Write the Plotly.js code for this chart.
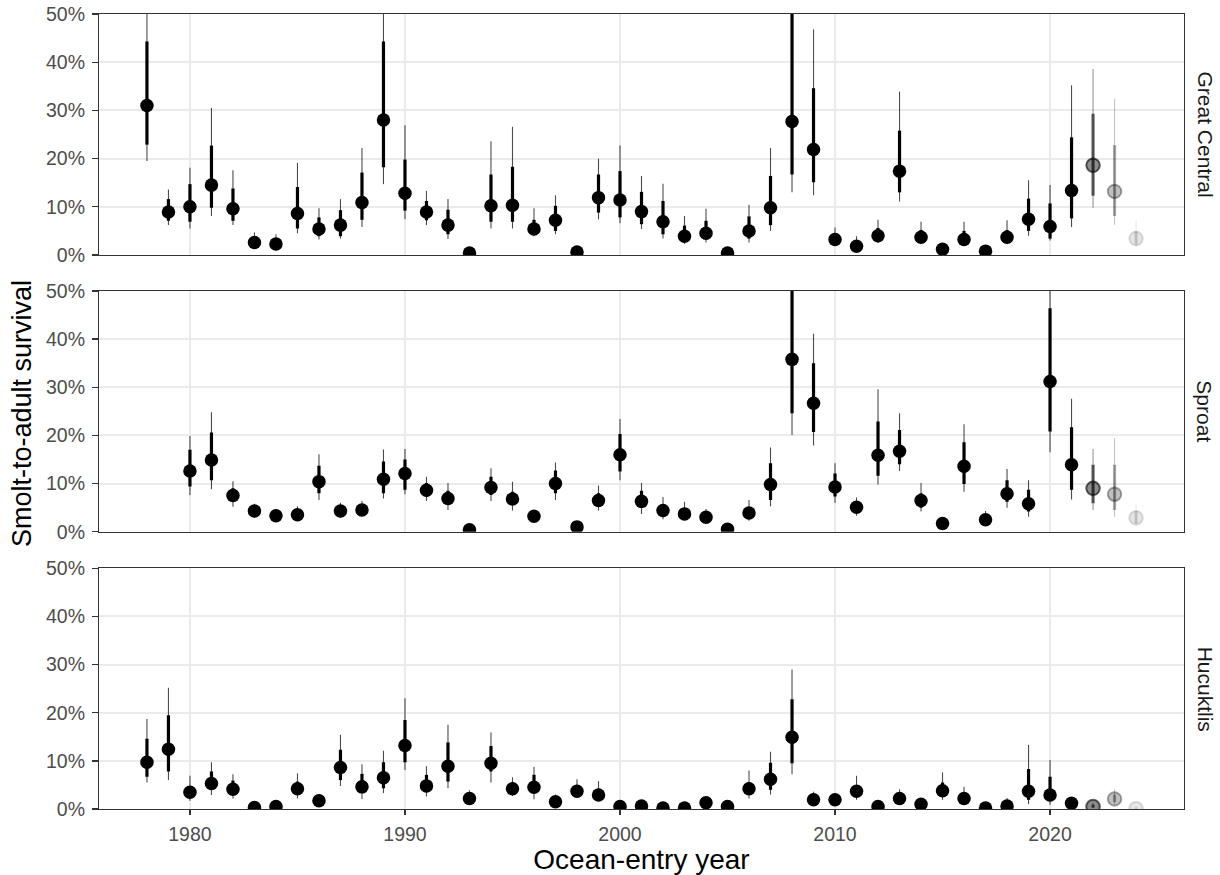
<!DOCTYPE html>
<html>
<head>
<meta charset="utf-8">
<script src="https://cdn.plot.ly/plotly-3.0.1.min.js"></script>
<style>html,body{margin:0;padding:0;background:#fff;}#chart{width:1220px;height:875px;}</style>
</head>
<body>
<div id="chart"></div>
<script>
// ---------------- DATA (percent) ----------------
const gcYears = [1978,1979,1980,1981,1982,1983,1984,1985,1986,1987,1988,1989,1990,1991,1992,1993,1994,1995,1996,1997,1998,1999,2000,2001,2002,2003,2004,2005,2006,2007,2008,2009,2010,2011,2012,2013,2014,2015,2016,2017,2018,2019,2020,2021,2022,2023,2024];
const gcEst  = [31.0,8.9,10.0,14.5,9.6,2.6,2.3,8.6,5.4,6.2,10.9,28.0,12.8,8.9,6.2,0.4,10.2,10.3,5.4,7.2,0.6,11.9,11.4,9.0,6.9,3.9,4.5,0.4,5.0,9.8,27.7,21.9,3.2,1.8,4.0,17.4,3.7,1.2,3.2,0.8,3.7,7.4,5.9,13.4,18.6,13.2,3.4];
const gcLo80 = [22.9,7.1,6.9,9.8,7.1,2.0,1.8,5.5,3.9,3.9,7.3,18.2,9.2,7.2,4.3,0.2,6.9,6.9,4.3,5.0,0.4,8.8,7.8,6.4,4.3,3.0,3.4,0.2,3.4,6.2,16.7,15.1,2.5,1.3,3.0,13.0,2.9,0.8,2.4,0.5,2.8,5.0,3.4,7.6,12.3,8.1,2.3];
const gcHi80 = [44.3,11.6,14.7,22.7,13.8,3.4,3.1,14.1,7.8,9.3,17.1,44.3,19.8,11.2,9.4,0.7,16.7,18.3,7.3,10.2,0.9,16.7,17.4,13.1,11.2,6.1,7.1,0.7,8.0,16.4,55.0,34.6,4.3,2.8,5.6,25.8,5.2,1.7,5.0,1.2,5.2,11.7,10.7,24.4,29.3,22.8,5.0];
const gcLo95 = [19.5,6.2,5.5,8.1,6.2,1.6,1.4,4.5,3.2,3.4,5.8,14.7,7.4,6.2,3.3,0.1,5.5,5.5,3.9,4.3,0.3,7.4,6.6,5.4,3.4,2.3,2.6,0.1,2.6,5.0,13.0,12.4,2.1,1.0,2.5,11.1,2.4,0.6,2.0,0.3,2.3,4.0,3.0,5.8,9.8,6.3,1.6];
const gcHi95 = [58.0,13.6,18.1,30.5,17.6,4.7,4.3,19.1,9.7,11.6,22.2,56.0,26.9,13.3,11.6,1.0,23.6,26.6,9.7,12.4,1.2,20.0,22.7,16.4,14.8,8.1,9.6,1.0,10.4,22.2,70.0,46.8,5.7,3.9,7.3,33.9,6.9,2.3,6.9,1.6,7.2,15.5,14.5,35.2,38.6,32.4,7.2];

const spYears = [1980,1981,1982,1983,1984,1985,1986,1987,1988,1989,1990,1991,1992,1993,1994,1995,1996,1997,1998,1999,2000,2001,2002,2003,2004,2005,2006,2007,2008,2009,2010,2011,2012,2013,2014,2015,2016,2017,2018,2019,2020,2021,2022,2023,2024];
const spEst  = [12.6,14.9,7.5,4.3,3.3,3.5,10.4,4.3,4.5,10.9,12.1,8.6,6.9,0.4,9.2,6.8,3.2,10.0,1.0,6.5,16.0,6.3,4.4,3.7,3.0,0.5,3.9,9.8,35.8,26.7,9.3,5.1,15.9,16.7,6.5,1.7,13.6,2.5,7.9,5.8,31.2,13.9,9.0,7.8,2.9];
const spLo80 = [9.4,10.7,6.2,3.4,2.5,2.7,8.0,3.4,3.7,8.0,8.7,7.3,5.6,0.2,7.6,5.6,2.5,8.0,0.7,5.2,12.5,4.9,3.1,2.8,2.3,0.3,3.0,6.6,24.6,20.7,7.3,4.0,11.6,14.0,5.0,1.1,9.9,1.8,6.2,4.2,20.8,8.7,5.9,4.5,1.8];
const spHi80 = [17.0,20.6,9.0,5.0,3.8,4.4,13.7,5.2,5.5,14.6,15.0,10.1,8.5,0.6,11.4,8.3,3.8,12.7,1.4,8.0,20.3,8.5,5.3,4.8,3.8,0.8,5.0,14.2,56.0,35.0,12.1,6.1,22.9,21.1,8.0,2.2,18.6,3.3,10.7,8.7,46.4,21.7,13.9,13.9,4.3];
const spLo95 = [7.6,8.8,5.2,2.9,2.1,2.3,6.6,2.9,3.2,6.9,7.8,6.4,4.5,0.1,6.4,4.4,2.1,6.6,0.5,4.4,10.7,3.7,2.6,2.4,1.9,0.2,2.3,5.3,20.1,17.9,6.0,3.3,9.8,12.6,4.2,0.9,8.3,1.5,5.0,3.1,16.5,6.7,4.5,3.1,1.2];
const spHi95 = [19.9,24.8,10.5,5.8,4.4,5.3,16.1,6.0,6.4,17.1,17.2,11.4,10.1,0.9,13.2,10.4,4.4,14.4,1.8,9.6,23.4,10.1,7.2,6.2,4.7,1.1,6.6,17.5,70.0,41.1,14.2,7.1,29.6,24.6,10.1,2.8,22.3,4.3,13.0,10.7,56.0,27.6,17.2,19.4,5.9];

const huYears = [1978,1979,1980,1981,1982,1983,1984,1985,1986,1987,1988,1989,1990,1991,1992,1993,1994,1995,1996,1997,1998,1999,2000,2001,2002,2003,2004,2005,2006,2007,2008,2009,2010,2011,2012,2013,2014,2015,2016,2017,2018,2019,2020,2021,2022,2023,2024];
const huEst  = [9.7,12.4,3.5,5.3,4.1,0.3,0.5,4.2,1.7,8.6,4.6,6.5,13.2,4.8,8.9,2.2,9.5,4.2,4.5,1.5,3.7,2.9,0.5,0.6,0.2,0.2,1.3,0.5,4.2,6.2,14.9,1.9,1.9,3.7,0.5,2.2,1.0,3.8,2.2,0.2,0.6,3.7,2.9,1.2,0.5,2.1,0.1];
const huLo80 = [6.7,7.8,2.4,4.0,2.9,0.1,0.3,2.9,1.2,6.0,3.3,4.3,9.7,3.6,5.7,1.6,7.8,3.3,3.3,1.0,3.0,2.2,0.3,0.4,0.1,0.1,0.9,0.3,3.3,4.0,9.5,1.4,1.4,2.8,0.3,1.6,0.7,2.8,1.6,0.1,0.4,1.9,1.7,0.8,0.3,1.4,0.05];
const huHi80 = [14.6,19.5,4.6,7.8,5.9,0.6,0.8,5.7,2.4,12.3,7.3,9.7,18.5,7.1,13.8,3.1,13.1,5.5,7.1,2.2,5.0,4.2,0.8,0.9,0.4,0.4,1.8,0.8,5.5,9.6,22.8,2.7,2.6,4.8,0.8,3.0,1.5,5.5,3.3,0.4,1.0,8.3,6.7,1.8,0.9,3.0,0.3];
const huLo95 = [5.5,6.0,1.7,2.9,2.2,0.05,0.2,2.2,0.9,4.8,2.1,3.3,8.1,2.6,4.3,1.2,5.5,2.7,2.0,0.8,2.6,1.9,0.2,0.3,0.05,0.05,0.7,0.2,2.2,3.0,7.2,1.1,1.1,1.9,0.2,1.3,0.5,1.9,1.2,0.05,0.3,1.0,0.9,0.6,0.2,1.0,0.02];
const huHi95 = [18.7,25.2,6.9,9.7,7.2,0.9,1.1,7.4,3.0,15.4,9.3,12.1,23.0,8.9,17.5,3.9,15.9,6.6,8.8,3.0,6.2,5.8,1.1,1.2,0.6,0.6,2.3,1.1,8.0,11.9,29.0,3.6,3.2,6.9,1.1,4.1,2.0,7.6,4.6,0.6,2.3,13.3,10.2,2.4,1.3,4.1,0.6];

const siteNames = ["Great Central", "Sproat", "Hucuktlis"];
const yTickVals = [0,10,20,30,40,50];
const yTickText = ["0%","10%","20%","30%","40%","50%"];
const xTickVals = [1980,1990,2000,2010,2020];
// provisional (incomplete) brood years shown faded
const fadedYears = [2022, 2023, 2024];
const fadedAlpha = [0.6, 0.33, 0.13];

// ---------------- BUILD ----------------
const sites = [
  {yrs: gcYears, est: gcEst, lo80: gcLo80, hi80: gcHi80, lo95: gcLo95, hi95: gcHi95},
  {yrs: spYears, est: spEst, lo80: spLo80, hi80: spHi80, lo95: spLo95, hi95: spHi95},
  {yrs: huYears, est: huEst, lo80: huLo80, hi80: huHi80, lo95: huLo95, hi95: huHi95}
];

const traces = [];
sites.forEach((s, i) => {
  const xa = i === 0 ? 'x' : 'x' + (i + 1);
  const ya = i === 0 ? 'y' : 'y' + (i + 1);
  const groups = [{alpha: 1, idx: s.yrs.map((y, k) => fadedYears.includes(y) ? -1 : k).filter(k => k >= 0)}];
  fadedYears.forEach((fy, j) => {
    groups.push({alpha: fadedAlpha[j], idx: s.yrs.map((y, k) => y === fy ? k : -1).filter(k => k >= 0)});
  });
  groups.forEach(g => {
    if (!g.idx.length) return;
    const X = g.idx.map(k => s.yrs[k]);
    const E = g.idx.map(k => s.est[k]);
    const c = a => `rgba(0,0,0,${a})`;
    const faded = g.alpha < 1;
    traces.push({
      type: 'scatter', mode: 'markers', xaxis: xa, yaxis: ya, x: X, y: E,
      marker: {size: 1, color: 'rgba(0,0,0,0)'}, hoverinfo: 'skip', showlegend: false, cliponaxis: true,
      error_y: {type: 'data', symmetric: false,
        array: g.idx.map(k => s.hi95[k] - s.est[k]),
        arrayminus: g.idx.map(k => s.est[k] - s.lo95[k]),
        width: 0, thickness: 1.1, color: c(0.7 * g.alpha)}
    });
    traces.push({
      type: 'scatter', mode: 'markers', xaxis: xa, yaxis: ya, x: X, y: E,
      marker: {size: 1, color: 'rgba(0,0,0,0)'}, hoverinfo: 'skip', showlegend: false, cliponaxis: true,
      error_y: {type: 'data', symmetric: false,
        array: g.idx.map(k => s.hi80[k] - s.est[k]),
        arrayminus: g.idx.map(k => s.est[k] - s.lo80[k]),
        width: 0, thickness: 3.2, color: c(g.alpha)}
    });
    traces.push({
      type: 'scatter', mode: 'markers', xaxis: xa, yaxis: ya, x: X, y: E,
      showlegend: false, cliponaxis: true,
      marker: {size: 13.5, color: faded ? c(g.alpha * 0.75) : '#000000',
               line: {width: faded ? 2 : 0, color: c(g.alpha)}}
    });
  });
});

const W = 1220, H = 875;
const mT = 14, mB = 66, mL = 99, mR = 36;
const plotH = H - mT - mB;
const pix = p => (H - mB - p) / plotH;
const domains = [[pix(255), 1], [pix(531.7), pix(291)], [0, pix(568.3)]];

const FAM = 'Liberation Sans, Arial, sans-serif';
const axFont = {family: FAM, size: 19.5, color: '#4d4d4d'};
const layout = {
  width: W, height: H,
  margin: {l: mL, r: mR, t: mT, b: mB},
  paper_bgcolor: '#ffffff', plot_bgcolor: '#ffffff',
  font: {family: FAM, color: '#000'},
  showlegend: false,
  annotations: [
    {text: 'Smolt-to-adult survival', xref: 'paper', yref: 'paper', x: (22 - mL) / (W - mL - mR), y: pix(414),
     xanchor: 'center', yanchor: 'middle', textangle: -90, showarrow: false,
     font: {family: FAM, size: 27, color: '#000'}}
  ]
};
for (let i = 0; i < 3; i++) {
  const sfx = i === 0 ? '' : String(i + 1);
  const ya = 'y' + (i === 0 ? '' : i + 1);
  const xa = 'x' + (i === 0 ? '' : i + 1);
  layout['xaxis' + sfx] = {
    anchor: ya, domain: [0, 1], range: [1975.77, 2026.23],
    tickvals: xTickVals, ticktext: xTickVals.map(String),
    showticklabels: i === 2, ticks: i === 2 ? 'outside' : '', ticklen: 5, tickwidth: 1.3, tickcolor: '#333',
    showgrid: true, gridcolor: '#ebebeb', gridwidth: 2, zeroline: false,
    showline: true, linecolor: '#333', linewidth: 1.1, mirror: true,
    tickfont: axFont, ticklabelstandoff: 2,
    title: i === 2 ? {text: 'Ocean-entry year', font: {family: FAM, size: 28, color: '#000'}, standoff: 1} : {text: ''}
  };
  layout['yaxis' + sfx] = {
    anchor: xa, domain: domains[i], range: [0, 50],
    tickvals: yTickVals, ticktext: yTickText,
    ticks: 'outside', ticklen: 6, tickwidth: 1.3, tickcolor: '#333',
    showgrid: true, gridcolor: '#ebebeb', gridwidth: 2, zeroline: false,
    showline: true, linecolor: '#333', linewidth: 1.1, mirror: true,
    tickfont: axFont, ticklabelstandoff: 3
  };
  layout.annotations.push({
    text: siteNames[i], xref: 'paper', yref: 'paper',
    x: 1 + 21 / (W - mL - mR), y: (domains[i][0] + domains[i][1]) / 2,
    xanchor: 'center', yanchor: 'middle', textangle: 90, showarrow: false,
    font: {family: FAM, size: 21, color: '#1a1a1a'}
  });
}

Plotly.newPlot('chart', traces, layout, {staticPlot: true, displayModeBar: false});
</script>
</body>
</html>
